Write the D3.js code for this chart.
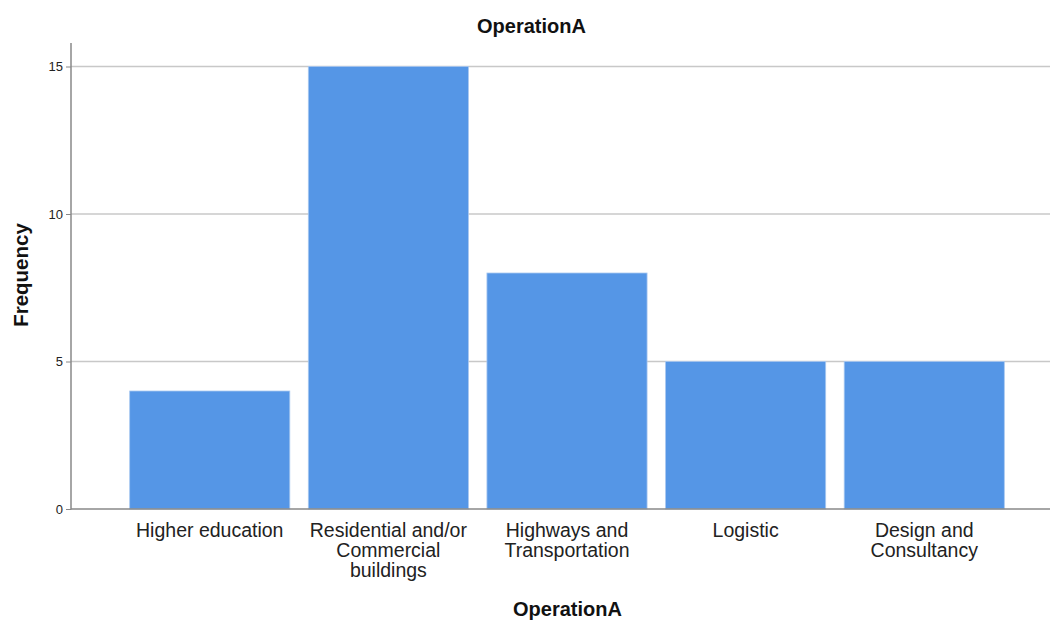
<!DOCTYPE html>
<html><head><meta charset="utf-8">
<script src="https://cdn.jsdelivr.net/npm/d3@7"></script>
<style>body{margin:0;background:#fff}svg{display:block;font-family:"Liberation Sans",Arial,sans-serif}</style>
</head><body>
<svg id="c" width="1050" height="624"></svg>
<script>
const categories = ["Higher education", "Residential and/or Commercial buildings", "Highways and Transportation", "Logistic", "Design and Consultancy"];
const labelLines = [["Higher education"], ["Residential and/or", "Commercial", "buildings"], ["Highways and", "Transportation"], ["Logistic"], ["Design and", "Consultancy"]];
const frequencies = [4, 15, 8, 5, 5];
const yTicks = [0, 5, 10, 15];

const svg = d3.select("#c");
const x0 = 71, x1 = 1050, yTop = 43, yBot = 509;
const x = d3.scaleBand().domain(categories).range([120.75, 1013.25]).paddingInner(0.1036).paddingOuter(0.05);
const y = d3.scaleLinear().domain([0, 15]).range([yBot, 66.5]);

// gridlines
svg.append("g").selectAll("line").data(yTicks.filter(d => d > 0)).join("line")
  .attr("x1", x0).attr("x2", x1).attr("y1", d => y(d)).attr("y2", d => y(d))
  .attr("stroke", "#c8c8c8").attr("stroke-width", 1.5);

// bars
svg.append("g").selectAll("rect").data(frequencies).join("rect")
  .attr("x", (d, i) => x(categories[i]))
  .attr("width", x.bandwidth())
  .attr("y", d => y(d))
  .attr("height", d => yBot - y(d))
  .attr("fill", "#5596e6").attr("stroke", "#a8c8f0").attr("stroke-width", 0.8);

// y axis
const yAxis = svg.append("g").attr("transform", `translate(${x0},0)`)
  .call(d3.axisLeft(y).tickValues(yTicks).tickSize(5).tickPadding(3));
yAxis.select(".domain").remove();
yAxis.selectAll(".tick line").attr("stroke", "#888");
yAxis.selectAll("text").attr("font-size", 13).attr("fill", "#222").attr("font-family", "Liberation Sans, Arial");
svg.append("line").attr("x1", x0).attr("x2", x0).attr("y1", yTop).attr("y2", yBot + 0.5).attr("stroke", "#888").attr("stroke-width", 1.5);
svg.append("line").attr("x1", x0).attr("x2", x1).attr("y1", yBot).attr("y2", yBot).attr("stroke", "#888").attr("stroke-width", 1.5);

// x labels
const lab = svg.append("g").selectAll("text").data(labelLines).join("text")
  .attr("text-anchor", "middle").attr("font-size", 19.5).attr("fill", "#222")
  .attr("transform", (d, i) => `translate(${x(categories[i]) + x.bandwidth() / 2},537)`);
lab.selectAll("tspan").data(d => d).join("tspan")
  .attr("x", 0).attr("dy", (d, i) => i === 0 ? 0 : 19.8).text(d => d);

// titles
svg.append("text").attr("x", 531.5).attr("y", 33).attr("text-anchor", "middle")
  .attr("font-size", 20).attr("font-weight", "bold").attr("fill", "#111").text("OperationA");
svg.append("text").attr("x", 567.5).attr("y", 616).attr("text-anchor", "middle")
  .attr("font-size", 20).attr("font-weight", "bold").attr("fill", "#111").text("OperationA");
svg.append("text").attr("transform", "translate(28,275) rotate(-90)").attr("text-anchor", "middle")
  .attr("font-size", 20.5).attr("font-weight", "bold").attr("fill", "#111").text("Frequency");
</script>
</body></html>
